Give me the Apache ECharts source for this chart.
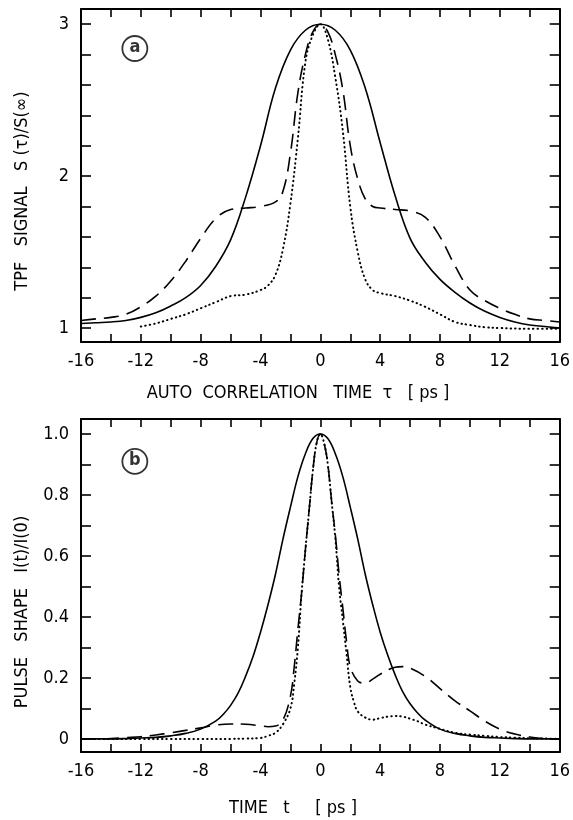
<!DOCTYPE html>
<html>
<head>
<meta charset="utf-8">
<script src="https://cdn.jsdelivr.net/npm/echarts@6/dist/echarts.min.js"></script>
<style>
  html, body { margin: 0; padding: 0; background: #fff; }
  #chart { width: 573px; height: 820px; }
</style>
</head>
<body>
<div id="chart"></div>
<script>
// panel (a): TPF signal vs autocorrelation time
const tauSolidA = [-16,-15,-14,-13,-12,-11,-10,-9,-8,-7,-6,-5,-4,-3,-2,-1,0,1,2,3,4,5,6,7,8,9,10,11,12,13,14,15,16];
const sSolidA   = [1.03,1.035,1.04,1.05,1.07,1.10,1.145,1.2,1.28,1.405,1.58,1.86,2.2,2.58,2.83,2.96,3.0,2.96,2.83,2.58,2.22,1.87,1.59,1.435,1.32,1.235,1.165,1.11,1.07,1.04,1.02,1.01,1.0];

const tauDashA = [-16,-15,-14,-13,-12,-11,-10,-9,-8,-7,-6,-5,-4,-3,-2.5,-2,-1.5,-1,-0.5,0,0.5,1,1.5,2,2.5,3,3.5,4,5,6,7,8,9,10,11,12,13,14,15,16];
const sDashA   = [1.05,1.06,1.07,1.09,1.14,1.21,1.31,1.44,1.59,1.72,1.78,1.79,1.80,1.83,1.9,2.15,2.55,2.8,2.95,3.0,2.95,2.8,2.57,2.2,1.98,1.85,1.8,1.79,1.78,1.77,1.73,1.60,1.41,1.25,1.18,1.13,1.09,1.06,1.05,1.04];

const tauDotA = [-12,-11,-10,-9,-8,-7,-6,-5,-4,-3.5,-3,-2.5,-2,-1.5,-1,-0.5,0,0.5,1,1.5,2,2.5,3,3.5,4,5,6,7,8,9,10,11,12,14,16];
const sDotA   = [1.01,1.03,1.06,1.09,1.13,1.17,1.21,1.22,1.25,1.28,1.35,1.52,1.82,2.25,2.75,2.93,3.0,2.9,2.65,2.3,1.8,1.5,1.32,1.25,1.23,1.21,1.18,1.14,1.09,1.04,1.02,1.005,1.0,0.995,0.995];

// panel (b): pulse shape vs time
const tSolidB = [-16,-15,-14,-13,-12,-11,-10,-9,-8,-7,-6.5,-6,-5.5,-5,-4.5,-4,-3.5,-3,-2.5,-2,-1.5,-1,-0.5,0,0.5,1,1.5,2,2.5,3,3.5,4,4.5,5,5.5,6,6.5,7,8,9,10,11,12,13,14,15,16];
const iSolidB = [0,0,0,0.001,0.003,0.005,0.01,0.018,0.032,0.058,0.08,0.11,0.15,0.205,0.27,0.35,0.44,0.54,0.655,0.76,0.86,0.935,0.985,1.0,0.985,0.935,0.86,0.76,0.655,0.54,0.44,0.35,0.275,0.21,0.155,0.115,0.085,0.062,0.032,0.018,0.01,0.005,0.003,0.001,0,0,0];

const tDashB = [-16,-15,-14,-13,-12,-11,-10,-9,-8,-7,-6,-5,-4,-3.5,-3,-2.5,-2,-1.75,-1.5,-1.25,-1,-0.75,-0.5,-0.25,0,0.25,0.5,0.75,1,1.25,1.5,1.75,2,2.5,3,3.5,4,5,5.5,6,7,8,9,10,11,12,13,14,15,16];
const iDashB = [0,0,0.001,0.004,0.007,0.013,0.02,0.028,0.036,0.045,0.049,0.048,0.043,0.04,0.042,0.062,0.14,0.235,0.36,0.48,0.62,0.75,0.88,0.97,1.0,0.97,0.9,0.78,0.67,0.54,0.43,0.32,0.237,0.19,0.183,0.196,0.212,0.235,0.237,0.232,0.205,0.165,0.125,0.092,0.058,0.032,0.016,0.006,0.001,0];

const tDotB = [-16,-14,-12,-10,-8,-6,-5,-4,-3.5,-3,-2.5,-2,-1.75,-1.5,-1.25,-1,-0.75,-0.5,-0.25,0,0.25,0.5,0.75,1,1.25,1.5,1.75,2,2.25,2.5,3,3.5,4,4.5,5,5.5,6,6.5,7,8,9,10,11,12,13,14,15,16];
const iDotB = [0,0,0,0,0,0,0.001,0.003,0.01,0.02,0.048,0.1,0.18,0.3,0.48,0.62,0.75,0.88,0.97,1.0,0.97,0.9,0.78,0.66,0.5,0.39,0.28,0.17,0.12,0.09,0.07,0.063,0.068,0.073,0.075,0.073,0.066,0.058,0.047,0.033,0.02,0.014,0.01,0.006,0.004,0.002,0.001,0];

// ticks and labels
const xTicks = [-16,-14,-12,-10,-8,-6,-4,-2,0,2,4,6,8,10,12,14,16];
const xLabels = [-16,-12,-8,-4,0,4,8,12,16];
const yTicksA = [1,1.2,1.4,1.6,1.8,2,2.2,2.4,2.6,2.8,3];
const yLabelsA = [1,2,3];
const yTicksB = [0,0.1,0.2,0.3,0.4,0.5,0.6,0.7,0.8,0.9,1.0];
const yLabelsB = [0,0.2,0.4,0.6,0.8,1.0];

const FONT = '"DejaVu Sans Condensed", "Liberation Sans Narrow", "DejaVu Sans", sans-serif';

function pairs(xs, ys) {
  return xs.map(function (x, i) { return [x, ys[i]]; });
}

function xAxisFor(grid, pos, showLabel) {
  return {
    type: 'value', gridIndex: grid, position: pos, min: -16, max: 16,
    axisLine: { show: true, onZero: false, lineStyle: { color: '#000', width: 2 } },
    axisTick: { show: true, inside: true, length: 8, customValues: xTicks, lineStyle: { color: '#000', width: 1.6 } },
    axisLabel: { show: showLabel, customValues: xLabels, color: '#000', fontSize: 18, fontFamily: FONT, margin: 10 },
    splitLine: { show: false }
  };
}

function yAxisFor(grid, pos, showLabel, min, max, ticks, labels, fmt) {
  return {
    type: 'value', gridIndex: grid, position: pos, min: min, max: max,
    axisLine: { show: true, onZero: false, lineStyle: { color: '#000', width: 2 } },
    axisTick: { show: true, inside: true, length: 10, customValues: ticks, lineStyle: { color: '#000', width: 1.6 } },
    axisLabel: { show: showLabel, customValues: labels, color: '#000', fontSize: 18, fontFamily: FONT, margin: 12, formatter: fmt },
    splitLine: { show: false }
  };
}

function line(name, xi, yi, data, kind) {
  let ls = { color: '#000', width: 1.6 };
  if (kind === 'dash') { ls.type = [15, 8]; }
  if (kind === 'dot') { ls.type = [0.5, 4]; ls.width = 2; ls.cap = 'round'; }
  return {
    name: name, type: 'line', xAxisIndex: xi, yAxisIndex: yi, data: data,
    smooth: 0.4, showSymbol: false, symbol: 'none', lineStyle: ls, z: 3
  };
}

function badge(letter, xi, yi, pt) {
  return {
    type: 'scatter', xAxisIndex: xi, yAxisIndex: yi, data: [pt],
    symbol: 'circle', symbolSize: 25,
    itemStyle: { color: 'rgba(0,0,0,0)', borderColor: '#000', borderWidth: 1.8 },
    label: { show: true, position: 'inside', formatter: letter, color: '#000', fontSize: 18, fontWeight: 'bold', fontFamily: FONT, offset: [0, -1] },
    silent: true, z: 4
  };
}

const chart = echarts.init(document.getElementById('chart'), null, { renderer: 'canvas' });

chart.setOption({
  animation: false,
  backgroundColor: '#fff',
  textStyle: { fontFamily: FONT },
  grid: [
    { left: 81, right: 8, top: 9, height: 333 },
    { left: 81, right: 8, top: 419, height: 333 }
  ],
  xAxis: [
    xAxisFor(0, 'bottom', true),
    xAxisFor(0, 'top', false),
    xAxisFor(1, 'bottom', true),
    xAxisFor(1, 'top', false)
  ],
  yAxis: [
    yAxisFor(0, 'left', true, 0.908, 3.1, yTicksA, yLabelsA, function (v) { return String(Math.round(v)); }),
    yAxisFor(0, 'right', false, 0.908, 3.1, yTicksA, yLabelsA),
    yAxisFor(1, 'left', true, -0.043, 1.049, yTicksB, yLabelsB, function (v) { return Math.abs(v) < 1e-9 ? '0' : v.toFixed(1); }),
    yAxisFor(1, 'right', false, -0.043, 1.049, yTicksB, yLabelsB)
  ],
  graphic: [
    { type: 'text', x: 298, y: 393, style: { text: 'AUTO  CORRELATION   TIME  τ   [ ps ]', fill: '#000', font: '18px ' + FONT, align: 'center', verticalAlign: 'middle' } },
    { type: 'text', x: 293, y: 808, style: { text: 'TIME   t     [ ps ]', fill: '#000', font: '18px ' + FONT, align: 'center', verticalAlign: 'middle' } },
    { type: 'text', x: 22, y: 191, rotation: Math.PI / 2, style: { text: 'TPF   SIGNAL   S (τ)/S(∞)', fill: '#000', font: '18px ' + FONT, align: 'center', verticalAlign: 'middle' } },
    { type: 'text', x: 22, y: 612, rotation: Math.PI / 2, style: { text: 'PULSE   SHAPE   I(t)/I(0)', fill: '#000', font: '18px ' + FONT, align: 'center', verticalAlign: 'middle' } }
  ],
  series: [
    line('solid a', 0, 0, pairs(tauSolidA, sSolidA), 'solid'),
    line('dash a', 0, 0, pairs(tauDashA, sDashA), 'dash'),
    line('dot a', 0, 0, pairs(tauDotA, sDotA), 'dot'),
    line('solid b', 2, 2, pairs(tSolidB, iSolidB), 'solid'),
    line('dash b', 2, 2, pairs(tDashB, iDashB), 'dash'),
    line('dot b', 2, 2, pairs(tDotB, iDotB), 'dot'),
    badge('a', 0, 0, [-12.4, 2.84]),
    badge('b', 2, 2, [-12.4, 0.91])
  ]
});
</script>
</body>
</html>
